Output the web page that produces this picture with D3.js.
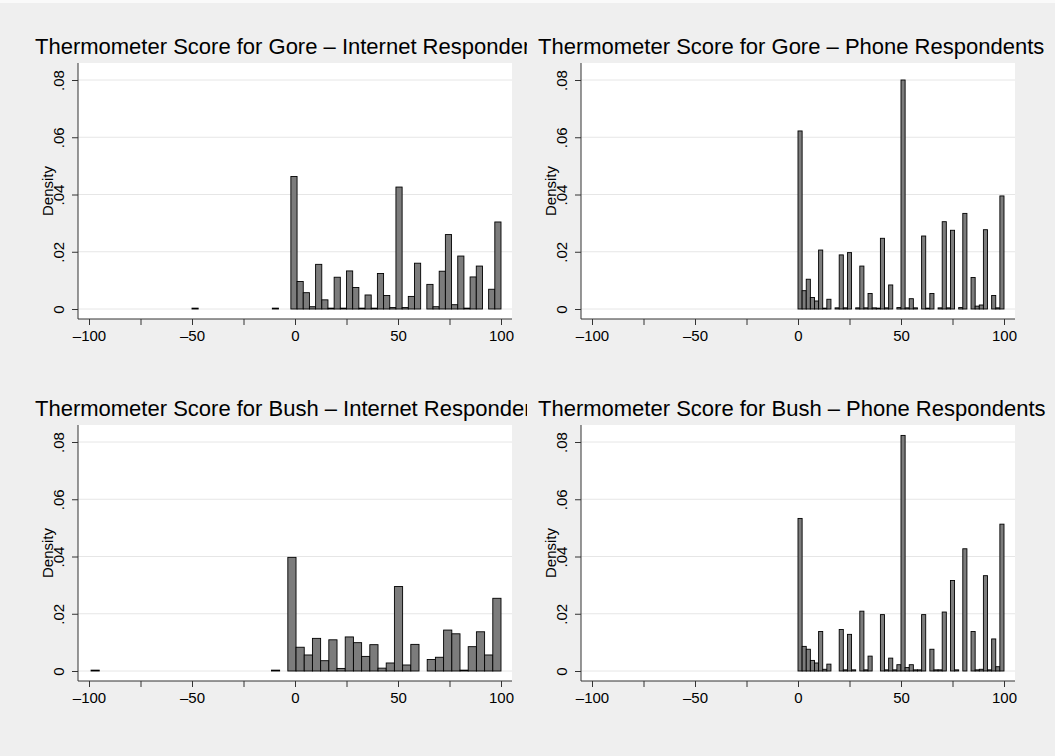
<!DOCTYPE html>
<html>
<head>
<meta charset="utf-8">
<script src="https://cdn.jsdelivr.net/npm/d3@7"></script>
<style>
  body { margin: 0; background: #fff; }
  svg { display: block; font-family: Arial, "Liberation Sans", Helvetica, sans-serif; }
</style>
</head>
<body>
<script>

// panel titles, in drawing order (top-left, top-right, bottom-left, bottom-right)
const titles = [
  "Thermometer Score for Gore \u2013 Internet Respondents",
  "Thermometer Score for Gore \u2013 Phone Respondents",
  "Thermometer Score for Bush \u2013 Internet Respondents",
  "Thermometer Score for Bush \u2013 Phone Respondents"
];

// histogram bins: first bin start and bin width (score units)
const binStarts = [-50, 0, -99, 0];
const binWidths = [3, 2, 3.98, 2];

// densities per bin (50 bins each)
const goreInternet = [
  0.0003, 0, 0, 0, 0, 0, 0, 0, 0, 0,
  0, 0, 0, 0.0003, 0, 0, 0.0463, 0.0096, 0.0057, 0.0008,
  0.0156, 0.0032, 0.0003, 0.0111, 0.0003, 0.0133, 0.0075, 0.0003, 0.0049, 0.0003,
  0.0124, 0.0047, 0.0005, 0.0426, 0.0005, 0.0044, 0.0160, 0, 0.0086, 0.0008,
  0.0132, 0.0260, 0.0015, 0.0185, 0.0003, 0.0112, 0.0150, 0, 0.0069, 0.0304
];
const gorePhone = [
  0.0622, 0.0064, 0.0104, 0.0040, 0.0028, 0.0206, 0.0003, 0.0034, 0, 0.0004,
  0.0189, 0.0004, 0.0197, 0, 0.0004, 0.0150, 0.0004, 0.0054, 0.0004, 0.0003,
  0.0247, 0.0004, 0.0084, 0, 0.0005, 0.0800, 0.0004, 0.0036, 0.0004, 0,
  0.0255, 0.0003, 0.0054, 0, 0.0004, 0.0305, 0.0004, 0.0275, 0, 0.0005,
  0.0334, 0, 0.0110, 0.0010, 0.0014, 0.0277, 0, 0.0047, 0.0004, 0.0395
];
const bushInternet = [
  0.0003, 0, 0, 0, 0, 0, 0, 0, 0, 0,
  0, 0, 0, 0, 0, 0, 0, 0, 0, 0,
  0, 0, 0.0003, 0, 0.0397, 0.0083, 0.0056, 0.0114, 0.0036, 0.0109,
  0.0009, 0.0119, 0.0099, 0.0051, 0.0092, 0.0010, 0.0028, 0.0295, 0.0021, 0.0093,
  0, 0.0040, 0.0048, 0.0143, 0.0130, 0.0003, 0.0085, 0.0137, 0.0056, 0.0254
];
const bushPhone = [
  0.0533, 0.0086, 0.0076, 0.0037, 0.0028, 0.0138, 0.0006, 0.0024, 0, 0,
  0.0145, 0.0004, 0.0128, 0.0004, 0, 0.0209, 0.0004, 0.0052, 0, 0,
  0.0197, 0.0004, 0.0045, 0.0004, 0.0022, 0.0823, 0.0012, 0.0022, 0.0004, 0.0004,
  0.0197, 0, 0.0076, 0.0004, 0.0004, 0.0206, 0, 0.0316, 0.0004, 0,
  0.0427, 0, 0.0138, 0.0004, 0.0006, 0.0333, 0.0004, 0.0112, 0.0015, 0.0513
];
const densities = [goreInternet, gorePhone, bushInternet, bushPhone];

// axes
const xTicks = [-100, -50, 0, 50, 100];
const xTickLabels = ["\u2013100", "\u201350", "0", "50", "100"];
const xMinorTicks = [-75, -25, 25, 75];
const yTicks = [0, 0.02, 0.04, 0.06, 0.08];
const yTickLabels = ["0", ".02", ".04", ".06", ".08"];
const yTitle = "Density";

const width = 1055, height = 756;
const panelW = 503, panelH = 362;
const plot = {left: 78, right: 512, top: 63, bottom: 319};

const svg = d3.select("body").append("svg")
    .attr("width", width)
    .attr("height", height);

svg.append("rect").attr("width", width).attr("height", height).attr("fill", "#efefef");

const x = d3.scaleLinear().domain([-100, 100]).range([plot.left + 11, plot.right - 11]);
const y = d3.scaleLinear().domain([0, 0.08]).range([plot.bottom - 10, plot.top + 17]);

titles.forEach((title, p) => {
  const col = p % 2, row = Math.floor(p / 2);
  const g = svg.append("g")
      .attr("transform", `translate(${col * panelW},${row * panelH})`);

  // graph region (covers the clipped end of the previous title)
  g.append("rect")
      .attr("x", 24).attr("y", 0)
      .attr("width", panelW).attr("height", panelH)
      .attr("fill", "#efefef");

  // plot region
  g.append("rect")
      .attr("x", plot.left).attr("y", plot.top)
      .attr("width", plot.right - plot.left).attr("height", plot.bottom - plot.top)
      .attr("fill", "#fff");

  // gridlines
  g.append("g")
    .selectAll("line")
    .data(yTicks)
    .join("line")
      .attr("x1", plot.left).attr("x2", plot.right)
      .attr("y1", d => y(d)).attr("y2", d => y(d))
      .attr("stroke", "#e6e6e6")
      .attr("stroke-width", 1);

  // bars
  const start = binStarts[p], bw = binWidths[p];
  const bins = densities[p].map((d, i) => ({x0: start + i * bw, x1: start + (i + 1) * bw, d}))
      .filter(b => b.d > 0);

  g.append("g")
      .attr("fill", "#7c7c7c")
      .attr("stroke", "#000")
      .attr("stroke-width", 0.9)
    .selectAll("rect")
    .data(bins)
    .join("rect")
      .attr("x", b => x(b.x0))
      .attr("width", b => x(b.x1) - x(b.x0))
      .attr("y", b => y(b.d))
      .attr("height", b => y(0) - y(b.d));

  // y axis
  const yAxis = g.append("g")
      .attr("transform", `translate(${plot.left},0)`)
      .call(d3.axisLeft(y).tickValues(yTicks).tickSize(6).tickSizeOuter(0)
        .tickFormat((d, i) => yTickLabels[i]));
  yAxis.select(".domain").remove();
  yAxis.selectAll(".tick line").attr("stroke", "#333");
  yAxis.selectAll(".tick text")
      .attr("transform", "rotate(-90)")
      .attr("x", 0).attr("y", -14).attr("dy", 0)
      .attr("text-anchor", "middle")
      .attr("font-size", 15)
      .attr("font-family", null)
      .attr("fill", "#000");

  // x axis
  const xAxis = g.append("g")
      .attr("transform", `translate(0,${plot.bottom})`)
      .call(d3.axisBottom(x).tickValues(xTicks).tickSize(6).tickSizeOuter(0)
        .tickFormat((d, i) => xTickLabels[i]));
  xAxis.select(".domain").remove();
  xAxis.selectAll(".tick line").attr("stroke", "#333");
  xAxis.selectAll(".tick text")
      .attr("y", 22).attr("dy", 0)
      .attr("font-size", 15)
      .attr("font-family", null)
      .attr("fill", "#000");

  const xMinor = g.append("g")
      .attr("transform", `translate(0,${plot.bottom})`)
      .call(d3.axisBottom(x).tickValues(xMinorTicks).tickSize(6).tickSizeOuter(0).tickFormat(""));
  xMinor.select(".domain").remove();
  xMinor.selectAll(".tick line").attr("stroke", "#333");

  // axis lines
  g.append("line")
      .attr("x1", plot.left).attr("x2", plot.left)
      .attr("y1", plot.top).attr("y2", plot.bottom)
      .attr("stroke", "#333");
  g.append("line")
      .attr("x1", plot.left).attr("x2", plot.right)
      .attr("y1", plot.bottom).attr("y2", plot.bottom)
      .attr("stroke", "#333");

  // y title
  g.append("text")
      .attr("transform", `translate(53,${(plot.top + plot.bottom) / 2}) rotate(-90)`)
      .attr("text-anchor", "middle")
      .attr("font-size", 15)
      .text(yTitle);

  // panel title
  g.append("text")
      .attr("x", 35).attr("y", 54)
      .attr("font-size", 22)
      .attr("fill", "#000")
      .text(title);
});

// thin light strip along the top edge
svg.append("rect").attr("width", width).attr("height", 3).attr("fill", "#fafafa");

</script>
</body>
</html>
